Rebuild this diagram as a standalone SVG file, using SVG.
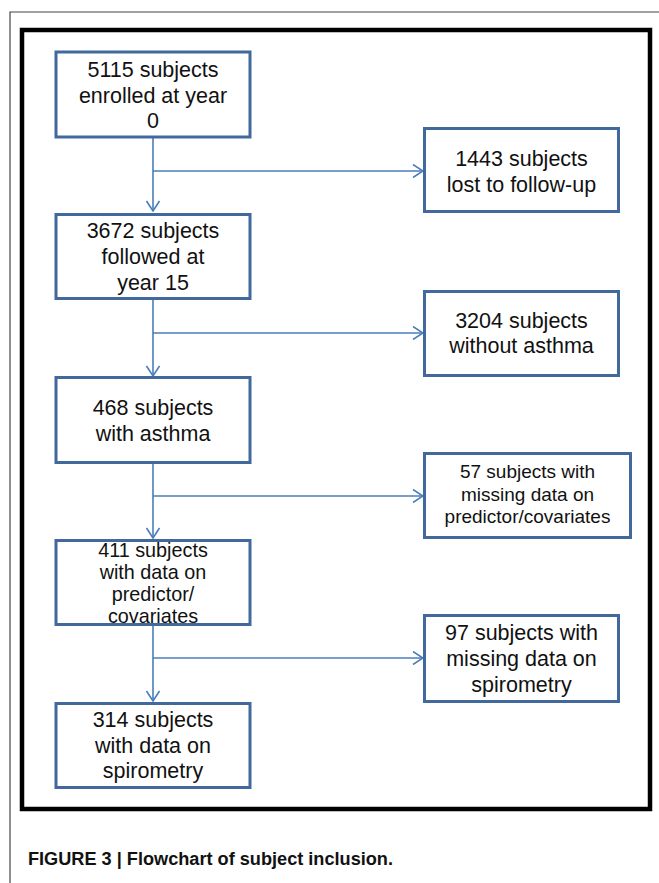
<svg xmlns="http://www.w3.org/2000/svg" width="659" height="883" viewBox="0 0 659 883">
<style>
.box{fill:#fff;stroke:#41699C;stroke-width:3}
.t{font-family:"Liberation Sans",Arial,sans-serif;font-size:21.5px;fill:#111;text-anchor:middle}
.s{font-size:19px}
.m{font-size:19.8px}
.c{fill:none;stroke:#4A7EBB;stroke-width:1.6}
.cap{font-family:"Liberation Sans",Arial,sans-serif;font-size:17.5px;font-weight:bold;fill:#111}
</style>
<defs>
<marker id="ah" viewBox="0 0 12 14" refX="11" refY="7" markerWidth="12" markerHeight="14" markerUnits="userSpaceOnUse" orient="auto">
<path d="M1,0.5 L11,7 L1,13.5" fill="none" stroke="#4A7EBB" stroke-width="1.6"/>
</marker>
</defs>
<rect width="659" height="883" fill="#fff"/>
<path d="M10,883 V12 H659" fill="none" stroke="#444" stroke-width="1.2"/>
<rect x="22" y="30" width="628" height="779" fill="none" stroke="#000" stroke-width="4.5"/>
<g id="connectors">
<path class="c" d="M153,137 V211" marker-end="url(#ah)"/>
<path class="c" d="M153,171 H423" marker-end="url(#ah)"/>
<path class="c" d="M153,300 V376" marker-end="url(#ah)"/>
<path class="c" d="M153,333 H423" marker-end="url(#ah)"/>
<path class="c" d="M153,464 V538" marker-end="url(#ah)"/>
<path class="c" d="M153,496 H423" marker-end="url(#ah)"/>
<path class="c" d="M153,626 V701" marker-end="url(#ah)"/>
<path class="c" d="M153,658 H423" marker-end="url(#ah)"/>
</g>
<g id="n1">
<rect class="box" x="56" y="52" width="194" height="85"/>
<text class="t" x="153" y="77">5115 subjects</text>
<text class="t" x="153" y="102.5">enrolled at year</text>
<text class="t" x="153" y="128">0</text>
</g>
<g id="n2">
<rect class="box" x="56" y="214.5" width="194" height="84"/>
<text class="t" x="153" y="238">3672 subjects</text>
<text class="t" x="153" y="264">followed at</text>
<text class="t" x="153" y="290">year 15</text>
</g>
<g id="n3">
<rect class="box" x="56" y="377.5" width="194" height="85"/>
<text class="t" x="153" y="415">468 subjects</text>
<text class="t" x="153" y="441">with asthma</text>
</g>
<g id="n4">
<rect class="box" x="56" y="540.5" width="194" height="84"/>
<text class="t m" x="153" y="556.5">411 subjects</text>
<text class="t m" x="153" y="578.8">with data on</text>
<text class="t m" x="153" y="601.1">predictor/</text>
<text class="t m" x="153" y="623.4">covariates</text>
</g>
<g id="n5">
<rect class="box" x="56" y="703.5" width="194" height="84"/>
<text class="t" x="153" y="727">314 subjects</text>
<text class="t" x="153" y="753">with data on</text>
<text class="t" x="153" y="778">spirometry</text>
</g>
<g id="r1">
<rect class="box" x="424.5" y="128.5" width="194" height="83"/>
<text class="t" x="521.5" y="166">1443 subjects</text>
<text class="t" x="521.5" y="192">lost to follow-up</text>
</g>
<g id="r2">
<rect class="box" x="424.5" y="291.5" width="194" height="84"/>
<text class="t" x="521.5" y="328">3204 subjects</text>
<text class="t" x="521.5" y="353">without asthma</text>
</g>
<g id="r3">
<rect class="box" x="424.5" y="453.5" width="206" height="84"/>
<text class="t s" x="527.5" y="478">57 subjects with</text>
<text class="t s" x="527.5" y="501">missing data on</text>
<text class="t s" x="527.5" y="523">predictor/covariates</text>
</g>
<g id="r4">
<rect class="box" x="424.5" y="615.5" width="194" height="86"/>
<text class="t" x="521.5" y="640">97 subjects with</text>
<text class="t" x="521.5" y="666">missing data on</text>
<text class="t" x="521.5" y="692">spirometry</text>
</g>
<text class="cap" x="28" y="865" textLength="365" lengthAdjust="spacingAndGlyphs">FIGURE 3 | Flowchart of subject inclusion.</text>
</svg>
